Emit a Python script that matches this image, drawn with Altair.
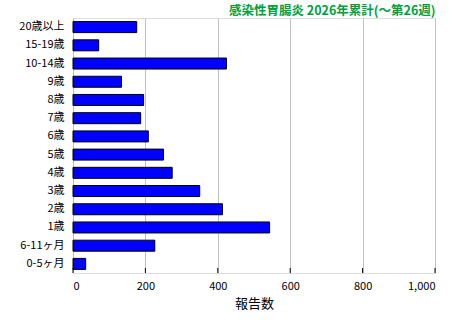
import altair as alt
import pandas as pd

categories = ["20歳以上", "15-19歳", "10-14歳", "9歳", "8歳", "7歳", "6歳", "5歳",
              "4歳", "3歳", "2歳", "1歳", "6-11ヶ月", "0-5ヶ月"]
values = [176, 71, 424, 134, 195, 187, 208, 250, 274, 350, 413, 543, 226, 35]
tick_values = [0, 200, 400, 600, 800, 1000]
title_text = "感染性胃腸炎 2026年累計(～第26週)"
x_title = "報告数"

df = pd.DataFrame({"cat": categories, "val": values})
ticks_df = pd.DataFrame({"t": tick_values})

FONT = "Noto Sans CJK JP"

bars = alt.Chart(df).mark_bar(color="#0000ff", stroke="#000000", strokeWidth=1, size=11).encode(
    x=alt.X("val:Q", scale=alt.Scale(domain=[0, 1000], nice=False),
            axis=alt.Axis(values=tick_values, format=",d", title=x_title, grid=True,
                          gridColor="#c0c0c0", gridWidth=1, ticks=False, domain=False,
                          labelFont=FONT, labelFontSize=11, labelColor="#000000",
                          labelPadding=7, titleFont=FONT, titleFontSize=13,
                          titleFontWeight="normal", titleColor="#000000", titlePadding=6)),
    y=alt.Y("cat:N", sort=categories,
            axis=alt.Axis(title=None, ticks=False, domain=False, grid=False,
                          labelFont=FONT, labelFontSize=11, labelColor="#000000",
                          labelPadding=9)),
)

tick_marks = alt.Chart(ticks_df).mark_rule(color="#000000", strokeWidth=1).encode(
    x=alt.X("t:Q"),
    y=alt.value(250),
    y2=alt.value(255),
)

chart = alt.layer(bars, tick_marks).properties(
    width=362, height=255,
    title=alt.TitleParams(title_text, anchor="end", color="#00a040", font=FONT,
                          fontSize=12.5, fontWeight="bold", offset=1),
    autosize=alt.AutoSizeParams(type="none"),
    padding={"left": 73, "top": 18, "right": 25, "bottom": 47},
).configure_view(stroke="#000000", strokeWidth=1.5).configure(background="#ffffff")

chart.save("out.html", embed_options={"renderer": "svg", "actions": False})
